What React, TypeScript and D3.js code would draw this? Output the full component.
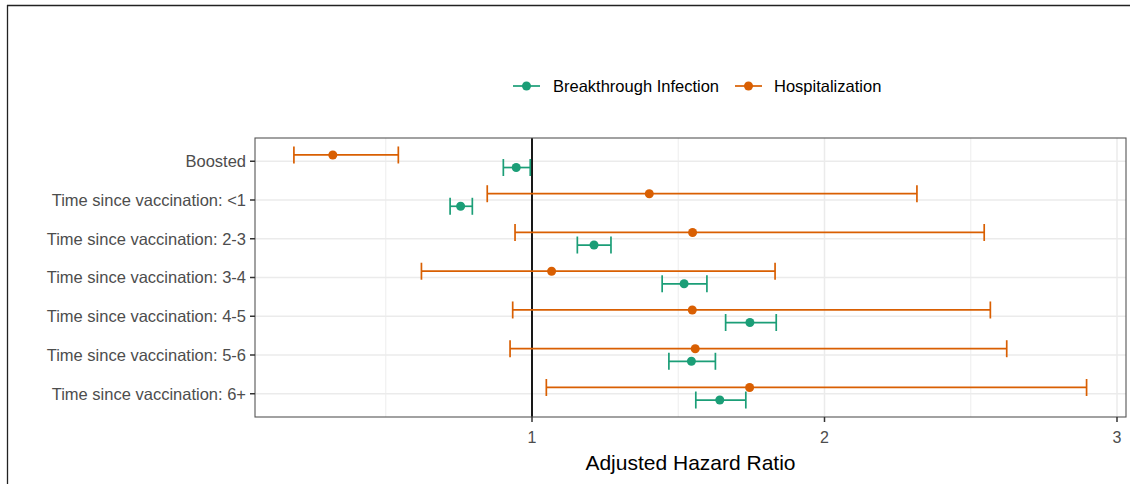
import React from "react";
import * as d3 from "d3";

const categories = [
  "Boosted",
  "Time since vaccination: <1",
  "Time since vaccination: 2-3",
  "Time since vaccination: 3-4",
  "Time since vaccination: 4-5",
  "Time since vaccination: 5-6",
  "Time since vaccination: 6+",
];

const seriesNames = ["Breakthrough Infection", "Hospitalization"];
const seriesColors = ["#1B9E77", "#D95F02"];

// Breakthrough Infection
const infEst = [0.946, 0.756, 1.212, 1.52, 1.745, 1.545, 1.642];
const infLow = [0.902, 0.72, 1.155, 1.445, 1.662, 1.468, 1.56];
const infHigh = [0.994, 0.796, 1.27, 1.598, 1.835, 1.627, 1.731];

// Hospitalization
const hosEst = [0.319, 1.401, 1.549, 1.067, 1.548, 1.558, 1.744];
const hosLow = [0.186, 0.847, 0.942, 0.622, 0.934, 0.925, 1.049];
const hosHigh = [0.543, 2.316, 2.546, 1.831, 2.567, 2.623, 2.896];

const xTicks = [1, 2, 3];
const xMinor = [0.5, 1.5, 2.5];

const W = 1130;
const H = 484;
const font = "'Liberation Sans', Arial, Helvetica, sans-serif";

export default function App() {
  const pl = 255, pr = 1126, pt = 138, pb = 417;
  const x = d3.scaleLinear().domain([1 - 277 / 292.5, 1 + 594 / 292.5]).range([pl, pr]);
  const y = d3.scalePoint<string>().domain(categories).range([pt, pb]).padding(0.6);
  const step = y.step();
  const dodge = step * 0.162;
  const cap = 8.5;

  const series = [
    { name: seriesNames[1], color: seriesColors[1], est: hosEst, lo: hosLow, hi: hosHigh, off: -dodge },
    { name: seriesNames[0], color: seriesColors[0], est: infEst, lo: infLow, hi: infHigh, off: dodge },
  ];

  const legendItems = [
    { name: seriesNames[0], color: seriesColors[0], kx: 513, tx: 553 },
    { name: seriesNames[1], color: seriesColors[1], kx: 735, tx: 774 },
  ];
  const ly = 86;

  return (
    <svg width={W} height={H} style={{ position: "absolute", left: 0, top: 0, background: "#fff" }} fontFamily={font}>
      <rect x={0} y={0} width={W} height={H} fill="#fff" />
      {/* outer frame */}
      <line x1={7} x2={W} y1={5.5} y2={5.5} stroke="#222" strokeWidth={1.3} />
      <line x1={7.5} x2={7.5} y1={5} y2={H} stroke="#222" strokeWidth={1.3} />

      {/* grid */}
      {xMinor.map((v) => (
        <line key={"mn" + v} x1={x(v)} x2={x(v)} y1={pt} y2={pb} stroke="#EBEBEB" strokeWidth={0.9} />
      ))}
      {xTicks.map((v) => (
        <line key={"mj" + v} x1={x(v)} x2={x(v)} y1={pt} y2={pb} stroke="#EBEBEB" strokeWidth={1.5} />
      ))}
      {categories.map((c) => (
        <line key={"hg" + c} x1={pl} x2={pr} y1={y(c)} y2={y(c)} stroke="#EBEBEB" strokeWidth={1.6} />
      ))}

      {/* reference line */}
      <line x1={x(1)} x2={x(1)} y1={pt} y2={pb} stroke="#000" strokeWidth={1.8} />

      {/* error bars and points */}
      {series.map((s) =>
        categories.map((c, i) => {
          const cy = (y(c) as number) + s.off;
          return (
            <g key={s.name + c}>
              <line x1={x(s.lo[i])} x2={x(s.hi[i])} y1={cy} y2={cy} stroke={s.color} strokeWidth={1.7} />
              <line x1={x(s.lo[i])} x2={x(s.lo[i])} y1={cy - cap} y2={cy + cap} stroke={s.color} strokeWidth={1.7} />
              <line x1={x(s.hi[i])} x2={x(s.hi[i])} y1={cy - cap} y2={cy + cap} stroke={s.color} strokeWidth={1.7} />
              <circle cx={x(s.est[i])} cy={cy} r={4.5} fill={s.color} />
            </g>
          );
        })
      )}

      {/* panel border */}
      <rect x={pl} y={pt} width={pr - pl} height={pb - pt} fill="none" stroke="#555" strokeWidth={1.1} />

      {/* y axis */}
      {categories.map((c) => (
        <g key={"yl" + c}>
          <line x1={pl - 5} x2={pl} y1={y(c)} y2={y(c)} stroke="#333" strokeWidth={1.5} />
          <text x={pl - 9} y={y(c)} dy="0.35em" textAnchor="end" fontSize={16.5} fill="#4D4D4D">
            {c}
          </text>
        </g>
      ))}

      {/* x axis */}
      {xTicks.map((v) => (
        <g key={"xt" + v}>
          <line x1={x(v)} x2={x(v)} y1={pb} y2={pb + 5} stroke="#333" strokeWidth={1.5} />
          <text x={x(v)} y={pb + 20} dy="0.35em" textAnchor="middle" fontSize={16} fill="#4D4D4D">
            {v}
          </text>
        </g>
      ))}
      <text x={(pl + pr) / 2} y={469.5} textAnchor="middle" fontSize={21} fill="#000">
        Adjusted Hazard Ratio
      </text>

      {/* legend */}
      {legendItems.map((l) => (
        <g key={"lg" + l.name}>
          <line x1={l.kx} x2={l.kx + 27} y1={ly} y2={ly} stroke={l.color} strokeWidth={1.7} />
          <circle cx={l.kx + 13.5} cy={ly} r={4.5} fill={l.color} />
          <text x={l.tx} y={ly} dy="0.35em" fontSize={16.5} fill="#000">
            {l.name}
          </text>
        </g>
      ))}
    </svg>
  );
}
